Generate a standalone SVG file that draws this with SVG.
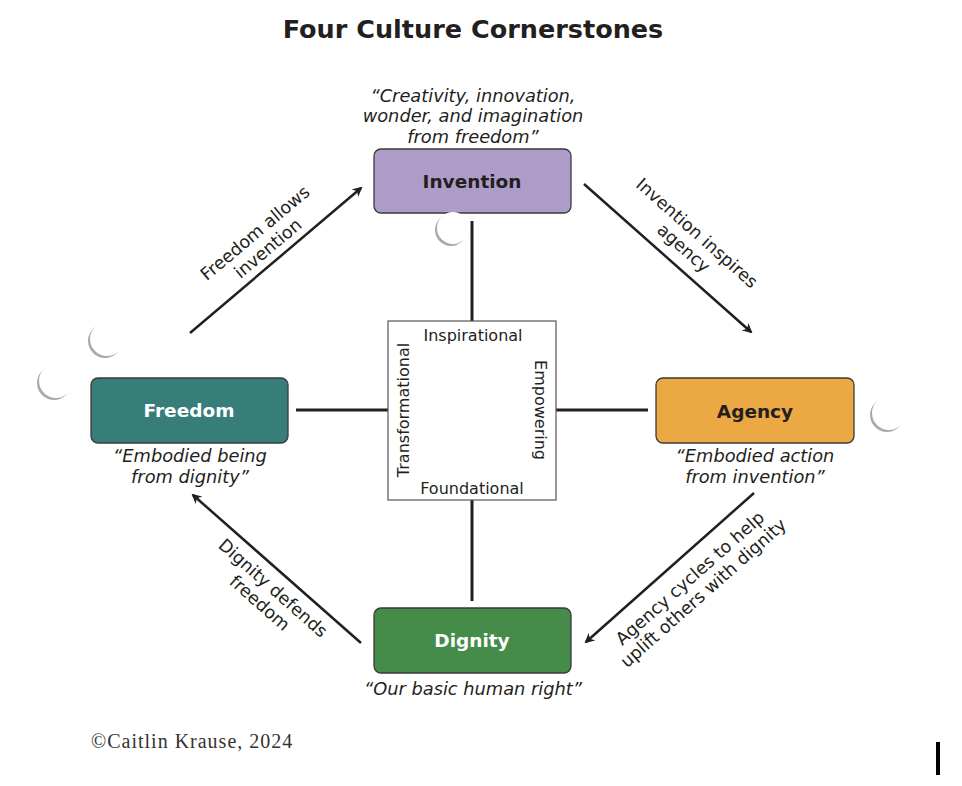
<svg xmlns="http://www.w3.org/2000/svg" width="962" height="786" viewBox="0 0 962 786">
<style>
text{font-family:"DejaVu Sans","Open Sans","Liberation Sans",sans-serif;fill:#231f20}
.title{font-size:25.5px;font-weight:700}
.node rect{stroke:#3a3a3a;stroke-width:1.3}
.nlab{font-size:18.5px;font-weight:700;text-anchor:middle}
.wl{fill:#ffffff}
.q{font-size:17.8px;font-style:italic;text-anchor:middle}
.al{font-size:17.5px;text-anchor:middle}
.cl{font-size:16px;text-anchor:middle}
.conn line{stroke:#231f20;stroke-width:3}
.arr line{stroke:#231f20;stroke-width:2.5;marker-end:url(#ah)}
</style>
<defs>
<marker id="ah" markerWidth="10" markerHeight="10" refX="8" refY="5" orient="auto" markerUnits="userSpaceOnUse" viewBox="0 0 10 10">
<path d="M0,0 L10,5 L0,10 L3,5 Z" fill="#231f20"/>
</marker>
<filter id="bl" x="-50%" y="-50%" width="200%" height="200%"><feGaussianBlur stdDeviation="0.7"/></filter>
</defs>
<rect width="962" height="786" fill="#ffffff"/>
<text class="title" x="473" y="38" text-anchor="middle">Four Culture Cornerstones</text>

<g id="connectors">
<g class="conn">
<line x1="472" y1="221" x2="472" y2="321"/>
<line x1="472" y1="500" x2="472" y2="601"/>
<line x1="296" y1="410" x2="388" y2="410"/>
<line x1="556" y1="410" x2="648" y2="410"/>
</g>
<g class="arr">
<line x1="190" y1="333" x2="361" y2="188"/>
<line x1="584" y1="184" x2="751" y2="332"/>
<line x1="754" y1="493" x2="586" y2="642"/>
<line x1="361" y1="643" x2="193" y2="495"/>
</g>
<g transform="translate(255,233) rotate(-40)"><text class="al" y="6">Freedom allows</text><text class="al" y="26">invention</text></g>
<g transform="translate(697,233) rotate(41.5)"><text class="al" y="6">Invention inspires</text><text class="al" y="26">agency</text></g>
<g transform="translate(690,578) rotate(-41.5)"><text class="al" y="6">Agency cycles to help</text><text class="al" y="26">uplift others with dignity</text></g>
<g transform="translate(273,588) rotate(41.5)"><text class="al" y="6">Dignity defends</text><text class="al" y="26">freedom</text></g>
</g>

<g id="center">
<rect x="388" y="321" width="168" height="179" fill="#ffffff" stroke="#555555" stroke-width="1.2"/>
<text class="cl" x="473" y="341">Inspirational</text>
<text class="cl" x="472" y="494">Foundational</text>
<text class="cl" transform="translate(409,410) rotate(-90)">Transformational</text>
<text class="cl" transform="translate(535,410) rotate(90)">Empowering</text>
</g>

<g id="invention" class="node">
<text class="q" x="473" y="102">“Creativity, innovation,</text>
<text class="q" x="473" y="122">wonder, and imagination</text>
<text class="q" x="473" y="143">from freedom”</text>
<rect x="374" y="149" width="197" height="64" rx="7" fill="#ad9cc7"/>
<text class="nlab" x="472" y="188">Invention</text>
</g>

<g id="freedom" class="node">
<rect x="91" y="378" width="197" height="65" rx="7" fill="#377e7b"/>
<text class="nlab wl" x="189" y="417">Freedom</text>
<text class="q" x="190" y="462">“Embodied being</text>
<text class="q" x="190" y="483">from dignity”</text>
</g>

<g id="agency" class="node">
<rect x="656" y="378" width="198" height="65" rx="7" fill="#eca842"/>
<text class="nlab" x="755" y="418">Agency</text>
<text class="q" x="755" y="462">“Embodied action</text>
<text class="q" x="755" y="483">from invention”</text>
</g>

<g id="dignity" class="node">
<rect x="374" y="608" width="197" height="65" rx="7" fill="#458b4a"/>
<text class="nlab wl" x="472" y="647">Dignity</text>
<text class="q" x="473" y="695">“Our basic human right”</text>
</g>

<g id="curls">
<g><circle cx="451" cy="230" r="16" fill="#aaa" filter="url(#bl)"/><circle cx="453" cy="228" r="16" fill="#fff"/></g>
<g><circle cx="105" cy="341" r="17" fill="#aaa" filter="url(#bl)"/><circle cx="107" cy="339" r="17" fill="#fff"/></g>
<g><circle cx="54" cy="383" r="17" fill="#aaa" filter="url(#bl)"/><circle cx="56" cy="381" r="17" fill="#fff"/></g>
<g><circle cx="887" cy="415" r="17" fill="#aaa" filter="url(#bl)"/><circle cx="889" cy="413" r="17" fill="#fff"/></g>
</g>

<text x="91" y="748" style="font-family:'Liberation Serif',serif;font-size:20px;letter-spacing:1px;fill:#333">©Caitlin Krause, 2024</text>
<rect x="936" y="742" width="4" height="33" fill="#000"/>
</svg>
